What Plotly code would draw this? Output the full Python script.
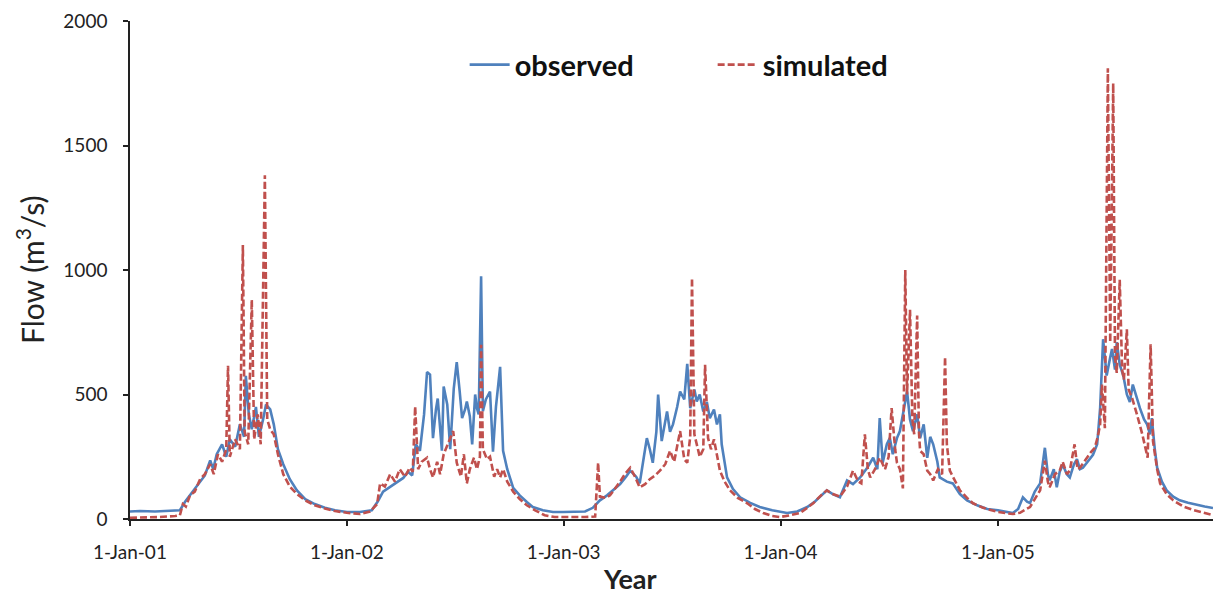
import pandas as pd
import plotly.graph_objects as go

# Days since 1-Jan-2001 and flow values (m3/s)
obs_day = [0, 17, 42, 67, 84, 93, 101, 109, 118, 126, 135, 140, 146, 155, 162, 168, 177, 185, 192, 195, 200, 205, 212, 217, 224, 229, 236, 242, 249, 258, 269, 281, 295, 311, 328, 345, 365,
           387, 407, 417, 426, 438, 449, 460, 468, 475, 481, 488, 495, 500, 505, 510, 515, 518, 525, 528, 534, 539, 545, 550, 555, 559, 564, 567, 572, 576, 581, 584, 587, 591, 594, 599, 606, 611, 616, 623, 628, 635, 645, 656, 668, 678, 695, 712, 729, 749, 766, 779,
           791, 803, 813, 825, 835, 842, 852, 858, 865, 870, 875, 880, 886, 889, 895, 901, 904, 909, 914, 921, 926, 933, 938, 943, 950, 954, 959, 965, 971, 976, 983, 988, 993, 996, 1005, 1015, 1027, 1044, 1060, 1081, 1106, 1123, 1140, 1153, 1165, 1173,
           1183, 1195, 1207, 1217, 1229, 1241, 1251, 1258, 1262, 1267, 1274, 1279, 1284, 1291, 1296, 1303, 1308, 1313, 1318, 1325, 1330, 1336, 1342, 1347, 1352, 1359, 1363, 1375, 1385, 1397, 1409, 1426, 1443, 1461,
           1473, 1486, 1495, 1503, 1510, 1515, 1523, 1532, 1540, 1545, 1548, 1555, 1560, 1565, 1570, 1577, 1582, 1589, 1594, 1599, 1604, 1612, 1621, 1628, 1633, 1638, 1644, 1650, 1653, 1658, 1661, 1666, 1672, 1678, 1683, 1688, 1695, 1700, 1707, 1712, 1717, 1720, 1725, 1729, 1737, 1745, 1756, 1767, 1781, 1796, 1809, 1823]
obs_flow = [30, 32, 30, 32, 35, 70, 95, 120, 150, 175, 235, 200, 260, 300, 250, 320, 290, 380, 330, 575, 420, 360, 450, 330, 400, 460, 440, 380, 280, 220, 160, 115, 80, 60, 45, 35, 28,
            28, 35, 70, 110, 130, 150, 165, 190, 175, 300, 274, 420, 590, 580, 325, 440, 484, 274, 532, 460, 280, 524, 630, 512, 405, 440, 472, 413, 300, 500, 445, 420, 975, 433, 480, 512, 270, 450, 611, 274, 200, 125, 95, 68, 48, 35, 28, 28, 28, 30, 45,
            75, 95, 115, 140, 170, 194, 170, 143, 250, 325, 280, 226, 350, 500, 313, 400, 432, 350, 380, 450, 512, 480, 623, 445, 520, 472, 500, 432, 470, 405, 440, 380, 420, 300, 167, 120, 87, 65, 48, 35, 24, 30, 48, 70, 95, 115,
            100, 87, 155, 140, 167, 206, 246, 200, 405, 226, 300, 325, 260, 325, 353, 450, 512, 400, 353, 420, 325, 380, 246, 330, 300, 230, 167, 150, 143, 100, 75, 55, 40, 35,
            30, 24, 40, 87, 70, 64, 110, 143, 286, 180, 155, 200, 127, 190, 218, 180, 167, 220, 240, 200, 206, 230, 258, 300, 445, 722, 576, 650, 683, 600, 710, 620, 576, 500, 470, 540, 480, 445, 400, 380, 340, 405, 280, 206, 150, 115, 90, 75, 65, 56, 50, 44]

sim_day = [0, 25, 50, 76, 84, 89, 94, 101, 109, 118, 126, 135, 141, 148, 155, 162, 165, 168, 177, 185, 190, 193, 199, 205, 209, 215, 220, 227, 231, 236, 242, 249, 258, 269, 281, 295, 311, 328, 345, 365,
           387, 404, 416, 421, 429, 438, 446, 454, 463, 471, 476, 480, 485, 491, 500, 505, 510, 517, 522, 528, 535, 544, 550, 557, 562, 567, 572, 579, 584, 589, 591, 594, 601, 606, 613, 618, 623, 628, 635, 645, 656, 668, 682, 698, 715, 741, 766, 783, 788, 791,
           800, 808, 816, 825, 833, 842, 850, 858, 867, 875, 884, 892, 901, 909, 916, 921, 926, 933, 938, 943, 946, 950, 954, 959, 965, 968, 973, 978, 983, 988, 993, 1001, 1010, 1023, 1039, 1052, 1066, 1081, 1094, 1111, 1128, 1140, 1150, 1161, 1173,
           1183, 1195, 1207, 1217, 1226, 1231, 1237, 1242, 1246, 1254, 1262, 1271, 1277, 1282, 1288, 1291, 1296, 1301, 1305, 1308, 1313, 1317, 1320, 1325, 1328, 1330, 1336, 1342, 1347, 1352, 1360, 1367, 1372, 1375, 1380, 1389, 1397, 1409, 1419, 1436, 1453, 1461,
           1473, 1486, 1498, 1515, 1523, 1532, 1540, 1545, 1548, 1557, 1565, 1570, 1577, 1582, 1590, 1595, 1599, 1606, 1611, 1618, 1624, 1629, 1633, 1636, 1641, 1646, 1650, 1655, 1658, 1661, 1666, 1670, 1673, 1678, 1681, 1687, 1695, 1700, 1704, 1713, 1718, 1722, 1729, 1734, 1745, 1756, 1773, 1790, 1806, 1823]
sim_flow = [5, 6, 8, 12, 15, 60, 50, 95, 110, 160, 180, 220, 180, 260, 230, 280, 615, 250, 320, 280, 1100, 350, 300, 880, 320, 420, 300, 1380, 400, 360, 340, 260, 180, 130, 100, 75, 55, 42, 32, 25,
            20, 30, 60, 143, 130, 180, 150, 200, 170, 206, 190, 452, 200, 230, 246, 200, 167, 230, 180, 260, 300, 353, 226, 170, 260, 143, 200, 246, 200, 250, 700, 280, 240, 250, 170, 200, 167, 200, 150, 110, 80, 55, 35, 15, 8, 7, 8, 10, 226, 90,
            85, 95, 120, 150, 180, 206, 170, 127, 140, 160, 175, 194, 220, 274, 230, 300, 353, 240, 226, 330, 968, 340, 300, 250, 280, 619, 325, 280, 320, 250, 194, 150, 115, 85, 63, 40, 24, 12, 8, 15, 24, 45, 63, 90, 115,
            100, 90, 130, 194, 150, 143, 340, 200, 167, 200, 246, 200, 250, 445, 280, 226, 200, 123, 1000, 500, 840, 400, 340, 817, 350, 274, 260, 194, 180, 155, 200, 180, 651, 300, 194, 150, 115, 85, 63, 45, 32, 28,
            24, 20, 25, 48, 80, 115, 234, 150, 127, 180, 194, 230, 180, 194, 300, 200, 206, 230, 246, 270, 286, 330, 380, 540, 365, 1810, 710, 1750, 650, 587, 961, 600, 560, 762, 520, 484, 420, 380, 340, 246, 702, 313, 200, 143, 100, 75, 50, 36, 25, 16]

tick_dates = ["2001-01-01", "2002-01-01", "2003-01-01", "2004-01-01", "2005-01-01"]
tick_labels = ["1-Jan-01", "1-Jan-02", "1-Jan-03", "1-Jan-04", "1-Jan-05"]
y_ticks = [0, 500, 1000, 1500, 2000]

start = pd.Timestamp("2001-01-01")
obs_x = start + pd.to_timedelta(obs_day, unit="D")
sim_x = start + pd.to_timedelta(sim_day, unit="D")

BLUE = "#4F81BD"
RED = "#C0504D"
FONT = "Lato"

fig = go.Figure()
fig.add_trace(go.Scatter(x=obs_x, y=obs_flow, mode="lines", name="observed",
                         line=dict(color=BLUE, width=2.6)))
fig.add_trace(go.Scatter(x=sim_x, y=sim_flow, mode="lines", name="simulated",
                         line=dict(color=RED, width=2.6, dash="7px,3px")))

fig.update_layout(
    width=1222, height=596,
    margin=dict(l=130, r=9, t=13, b=77),
    paper_bgcolor="white", plot_bgcolor="white",
    font=dict(family=FONT, color="#222222"),
    showlegend=True,
    legend=dict(orientation="h", x=0.309, y=0.912, xanchor="left", yanchor="middle",
                font=dict(family=FONT, size=29, color="#111111", weight="bold"),
                entrywidth=193, bgcolor="rgba(0,0,0,0)", itemwidth=40),
    xaxis=dict(type="date", range=["2001-01-01", "2005-12-29"],
               tickvals=tick_dates, ticktext=tick_labels,
               showgrid=False, zeroline=False, showline=True, linecolor="#222222", linewidth=1.5,
               ticks="outside", ticklen=5, tickcolor="#222222", tickwidth=1.5,
               tickfont=dict(family=FONT, size=19, color="#222222"), ticklabelstandoff=10),
    yaxis=dict(range=[0, 2000], tickvals=y_ticks,
               showgrid=False, zeroline=False, showline=True, linecolor="#222222", linewidth=1.5,
               ticks="outside", ticklen=5, tickcolor="#222222", tickwidth=1.5,
               tickfont=dict(family=FONT, size=19, color="#222222"), ticklabelstandoff=12),
    annotations=[
        dict(text="Flow (m<sup>3</sup>/s)", xref="paper", yref="paper", x=0, y=0.5,
             xanchor="center", yanchor="middle", xshift=-100, textangle=-90, showarrow=False,
             font=dict(family=FONT, size=30, color="#222222")),
        dict(text="<b>Year</b>", xref="paper", yref="paper", x=0.4617, y=0,
             xanchor="center", yanchor="middle", yshift=-59, showarrow=False,
             font=dict(family=FONT, size=27, color="#222222")),
    ],
)

fig.write_html("out.html")
